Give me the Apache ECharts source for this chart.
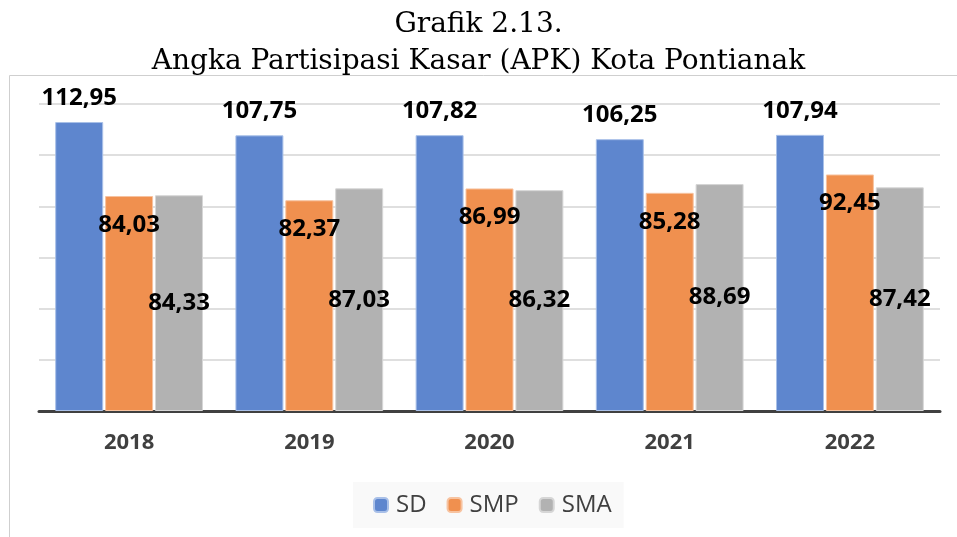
<!DOCTYPE html>
<html>
<head>
<meta charset="utf-8">
<script src="https://cdn.jsdelivr.net/npm/echarts@6/dist/echarts.min.js"></script>
<style>
html, body { margin: 0; padding: 0; background: #fff; }
#chart { width: 957px; height: 537px; }
</style>
</head>
<body>
<div id="chart"></div>
<script>
var years = ['2018', '2019', '2020', '2021', '2022'];
var sd = [112.95, 107.75, 107.82, 106.25, 107.94];
var smp = [84.03, 82.37, 86.99, 85.28, 92.45];
var sma = [84.33, 87.03, 86.32, 88.69, 87.42];

var chart = echarts.init(document.getElementById('chart'));

function fmt(p) {
    return p.value.toFixed(2).replace('.', ',');
}

var labelFont = {
    show: true,
    formatter: fmt,
    color: '#000',
    fontFamily: 'Open Sans',
    fontWeight: 'bold',
    fontSize: 24
};

chart.setOption({
    animation: false,
    title: {
        text: 'Grafik 2.13.\nAngka Partisipasi Kasar (APK) Kota Pontianak',
        left: 'center',
        top: 1,
        textStyle: {
            fontFamily: 'DejaVu Serif',
            fontWeight: 'normal',
            fontSize: 28,
            lineHeight: 37,
            color: '#000'
        }
    },
    graphic: [{
        type: 'rect',
        shape: { x: 9.5, y: 75.5, width: 960, height: 500 },
        style: { fill: null, stroke: '#cfcfcf', lineWidth: 1 },
        z: -1
    }],
    legend: {
        bottom: 9,
        left: 353,
        itemWidth: 14,
        itemHeight: 14,
        itemGap: 20,
        padding: [11, 12, 11, 20],
        backgroundColor: '#f9f9f9',
        textStyle: { fontFamily: 'Open Sans', fontSize: 24, color: '#404040', padding: [0, 0, 0, 3] },
        data: ['SD', 'SMP', 'SMA']
    },
    grid: { left: 39, right: 17, top: 104, bottom: 126 },
    xAxis: {
        type: 'category',
        data: years,
        axisLine: { lineStyle: { color: '#404040', width: 3 } },
        axisTick: { show: false },
        axisLabel: {
            margin: 21,
            color: '#404040',
            fontFamily: 'Open Sans',
            fontWeight: 'bold',
            fontSize: 22
        }
    },
    yAxis: {
        type: 'value',
        min: 0,
        max: 120,
        interval: 20,
        axisLabel: { show: false },
        axisLine: { show: false },
        axisTick: { show: false },
        splitLine: { lineStyle: { color: '#d4d4d4', width: 1.5 } }
    },
    series: [
        {
            name: 'SD',
            type: 'bar',
            data: sd,
            barGap: '4%',
            barCategoryGap: '18%',
            itemStyle: { color: '#5E86CE', borderColor: '#a9c0e8', borderWidth: 1 },
            label: Object.assign({ position: 'top', distance: 12 }, labelFont)
        },
        {
            name: 'SMP',
            type: 'bar',
            data: smp,
            itemStyle: { color: '#F0904F', borderColor: '#f7c3a0', borderWidth: 1 },
            label: Object.assign({ position: 'insideTop', distance: 17 }, labelFont)
        },
        {
            name: 'SMA',
            type: 'bar',
            data: sma,
            itemStyle: { color: '#B2B2B2', borderColor: '#d6d6d6', borderWidth: 1 },
            label: Object.assign({ position: 'inside' }, labelFont)
        }
    ]
});
</script>
</body>
</html>
